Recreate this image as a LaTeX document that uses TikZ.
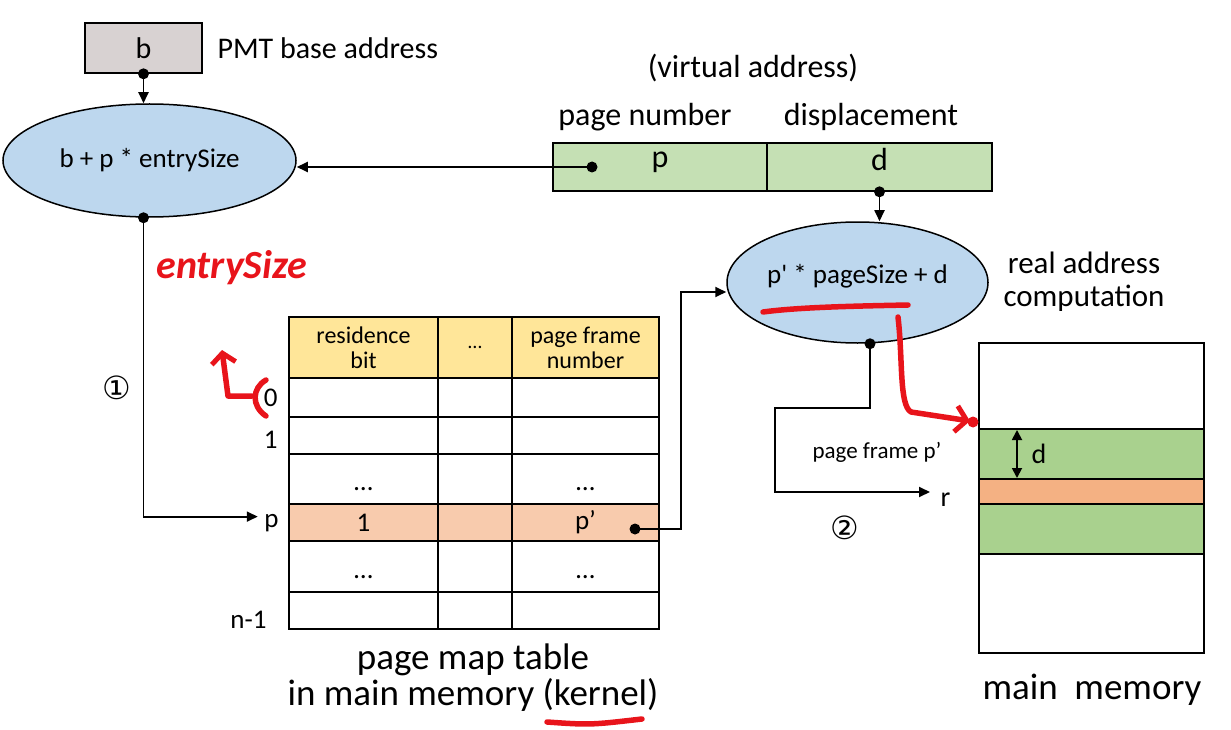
\documentclass[tikz,border=0pt]{standalone}
\usepackage{fontspec}
\setmainfont{Carlito}
\newfontfamily\calnomap{Carlito}
\newfontfamily\symfont{DejaVu Sans}
\usetikzlibrary{shapes.geometric,arrows.meta}
\definecolor{boxgray}{HTML}{D8D2D2}
\definecolor{ellblue}{HTML}{BDD7EE}
\definecolor{vagreen}{HTML}{C5E0B4}
\definecolor{hdryellow}{HTML}{FFE699}
\definecolor{prow}{HTML}{F8CBAD}
\definecolor{memgreen}{HTML}{A9D18E}
\definecolor{memorange}{HTML}{F4B183}
\definecolor{penred}{HTML}{E8141B}
\newcommand\fsz[2]{\fontsize{#1}{#2}\selectfont}
\tikzset{
  conn/.style={line width=1.8pt, -{Triangle[length=11pt,width=10pt]}},
  ell/.style={ellipse, draw, line width=1.5pt, fill=ellblue, inner sep=0pt},
  vacell/.style={draw, line width=1.6pt, fill=vagreen, inner sep=0pt, minimum height=48pt, text height=0.7em, font=\fsz{32}{36}},
  tbl/.style={line width=2.4pt},
  redpen/.style={draw=penred, line width=5.5pt, line cap=round, line join=round},
  lbl/.style={font=\fsz{27}{30}},
  big/.style={font=\fsz{32}{36}},
  dot/.style={fill=black}
}
\begin{document}
\begin{tikzpicture}[x=1pt,y=-1pt]
\useasboundingbox (0,0) rectangle (1231,730);

% base register
\node[draw, line width=1.6pt, fill=boxgray, minimum width=117pt, minimum height=50pt, inner sep=0pt, font=\fsz{30}{34}] (b) at (143.5,48) {b};
\node[anchor=west, font=\fsz{30}{34}] (pmt) at (214,48) {PMT base address};

% ellipse 1
\node[ell, minimum width=293pt, minimum height=113pt, font=\fsz{27}{30}] (e1) at (149.5,160.5) {b + p * entrySize};
\draw[conn] (b.south) -- (b.south |- e1.north);
\fill[dot] (b.south) circle (5.5pt);

% virtual address
\node[big] (va) at (753,68) {(virtual address)};
\node[big] (pn) at (645,117) {page number};
\node[big] (dp) at (871,117) {displacement};
\node[vacell, minimum width=214pt] (pc) at (660,167) {p};
\node[vacell, minimum width=225pt] (dc) at (879.5,167) {d};
\coordinate (pdot) at (592,167);
\draw[conn] (pdot) -- (pdot -| e1.east);
\fill[dot] (pdot) circle (5.5pt);

% ellipse 2
\node[ell, minimum width=261pt, minimum height=121pt, text height=0.75em, font=\calnomap\fsz{27}{30}] (e2) at (857.5,282.5) {p' * pageSize + d};
\draw[conn] (dc.south) -- (dc.south |- e2.north);
\fill[dot] (dc.south) circle (5.5pt);
\node[align=center, font=\fsz{31}{33}] (ra) at (1084,282) {real address\\computation};

% page map table
\fill[hdryellow] (289,317) rectangle (659,378);
\fill[prow] (289,504) rectangle (659,541);
\draw[tbl] (289,317) rectangle (659,629);
\foreach \yy in {378,417,454,504,541,592} \draw[tbl] (289,\yy) -- (659,\yy);
\draw[tbl] (438,317) -- (438,629);
\draw[tbl] (512,317) -- (512,629);
\node[align=center, font=\fsz{24}{25}] (h1) at (363.5,347.5) {residence\\bit};
\node[font=\fsz{20}{22}] (h2) at (475,347.5) {…};
\node[align=center, font=\fsz{24}{25}] (h3) at (585.5,347.5) {page frame\\number};
\node[lbl, anchor=base] (c21) at (363.5,490) {…};
\node[lbl, anchor=base] (c23) at (585.5,490) {…};
\node[lbl] (c31) at (363.5,523) {1};
\node[lbl] (c33) at (585.5,522) {p’};
\node[lbl, anchor=base] (c51) at (363.5,578) {…};
\node[lbl, anchor=base] (c53) at (585.5,578) {…};
\node[lbl, anchor=base east] (l0) at (281,406) {0};
\node[lbl, anchor=base east] (l1) at (281,448) {1};
\node[lbl, anchor=base east] (lp) at (282,527) {p};
\node[lbl, anchor=base east] (ln) at (270,628) {n-1};
\node[align=center, font=\fsz{37}{36}] (cap) at (473,678) {page map table\\in main memory (kernel)};

% path from ellipse 1 to row p
\coordinate (e1b) at (b.south |- e1.south);
\draw[conn] (e1b) |- ([xshift=-3pt,yshift=6pt]lp.west);
\fill[dot] (e1b) circle (5.5pt);
\node[font=\symfont\fsz{32}{34}] (n1) at (117,388) {①};

% p' to ellipse 2
\coordinate (pfd) at (635,529);
\draw[conn] (pfd) -- ++(46,0) |- ([yshift=-9.5pt]e2.west);
\fill[dot] (pfd) circle (5.5pt);

% main memory
\node[draw, line width=2pt, minimum width=225pt, minimum height=310pt, inner sep=0pt] (mem) at (1091.5,498) {};
\draw[line width=2pt, fill=memgreen] (979,429) rectangle (1204,479);
\draw[line width=2pt, fill=memorange] (979,479) rectangle (1204,504);
\draw[line width=2pt, fill=memgreen] (979,504) rectangle (1204,554);
\draw[line width=1.8pt, {Triangle[length=10pt,width=10pt]}-{Triangle[length=10pt,width=10pt]}] (1017,430) -- (1017,478);
\node[font=\fsz{28}{30}] (dl) at (1039,454) {d};
\node[font=\fsz{37}{40}] (mm) at (1092,690) {main\hspace{0.45em}memory};

% ellipse 2 to r
\coordinate (e2b) at ([xshift=12.5pt]e2.south);
\node[font=\fsz{28}{30}, anchor=base west] (lr) at (937,506) {r};
\coordinate (rin) at (930,492);
\draw[conn] (e2b) |- ++(-95,64.5) |- (rin);
\fill[dot] (e2b) circle (5.5pt);
\node[font=\fsz{23}{26}] (pf) at (877,452) {page frame p’};
\node[font=\symfont\fsz{32}{34}] (n2) at (845,528) {②};

% red annotations
\node[text=penred, font=\fsz{40}{42}\bfseries\itshape] (es) at (232,268) {entrySize};
\draw[redpen] (266,380) .. controls (252,388) and (251,406) .. (266,416);
\draw[redpen, -{Straight Barb[length=10pt,width=24pt,line width=5pt]}] (252,396) -- (228,396) -- (222,350);
\draw[redpen] (763,312) .. controls (800,307) and (860,306) .. (908,305);
\draw[redpen, -{Straight Barb[length=11pt,width=26pt,line width=5pt]}] (898,317) .. controls (903,360) and (899,405) .. (911,412) -- (970,421);
\fill[penred] (973,422) circle (5.5pt);
\draw[redpen] (547,722) .. controls (590,725) .. (642,719);
\end{tikzpicture}
\end{document}
